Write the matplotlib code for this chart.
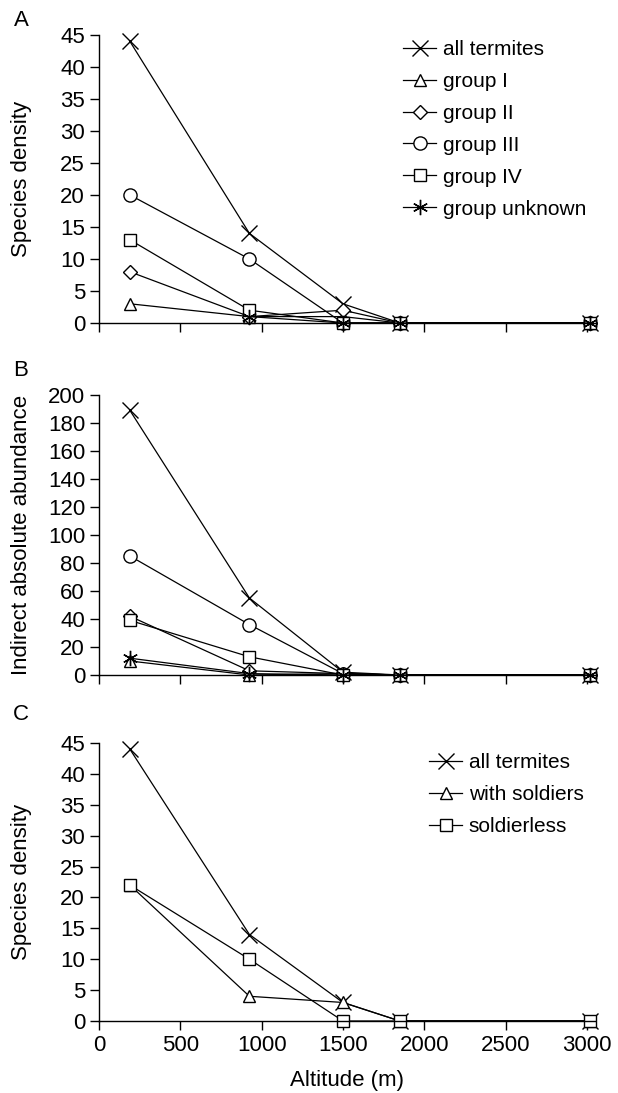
import matplotlib
matplotlib.use("Agg")
import matplotlib.pyplot as plt

plt.rcParams["font.family"] = ["Liberation Sans", "DejaVu Sans"]

altitude = [190, 925, 1500, 1850, 3020]
nan = float("nan")

# panel A - species density per feeding group
a_all = [44, 14, 3, 0, 0]
a_g1 = [3, 1, 1, 0, 0]
a_g2 = [8, 1, 2, 0, 0]
a_g3 = [20, 10, 0, 0, 0]
a_g4 = [13, 2, 0, 0, 0]
a_unk = [nan, 1, 0, 0, 0]

# panel B - indirect absolute abundance
b_all = [189, 55, 2, 0, 0]
b_g1 = [10, 0, 1, 0, 0]
b_g2 = [42, 3, 1, 0, 0]
b_g3 = [85, 36, 1, 0, 0]
b_g4 = [39, 13, 0, 0, 0]
b_unk = [12, 1, 0, 0, 0]

# panel C - soldiers vs soldierless
c_all = [44, 14, 3, 0, 0]
c_sold = [22, 4, 3, 0, 0]
c_nosold = [22, 10, 0, 0, 0]

group_labels = ["all termites", "group I", "group II", "group III", "group IV", "group unknown"]
soldier_labels = ["all termites", "with soldiers", "soldierless"]
markers = ["x", "^", "D", "o", "s", (6, 2, 0)]
msizes = [11, 9, 7.5, 9.5, 9, 11]

FS = 16
LFS = 15
W, H = 618, 1093
fig = plt.figure(figsize=(W / 100, H / 100), dpi=100)


def make_ax(top, bottom):
    ax = fig.add_axes([99 / W, (H - bottom) / H, 496 / W, (bottom - top) / H])
    ax.spines["top"].set_visible(False)
    ax.spines["right"].set_visible(False)
    ax.spines["left"].set_linewidth(1.0)
    ax.spines["bottom"].set_linewidth(1.0)
    ax.set_xlim(0, 3050)
    ax.set_xticks(range(0, 3001, 500))
    ax.tick_params(direction="out", length=6.5, width=1, labelsize=FS, pad=3.5)
    return ax


def draw(ax, series, labels, mk, ms):
    for ys, lab, m, s in zip(series, labels, mk, ms):
        ax.plot(altitude, ys, color="black", lw=0.9, marker=m, markersize=s,
                markerfacecolor="white", markeredgecolor="black", markeredgewidth=1.0,
                label=lab, clip_on=False)


def legend(ax, x, y):
    ax.legend(loc="upper left", bbox_to_anchor=(x / W, 1 - y / H),
              bbox_transform=fig.transFigure, frameon=False, fontsize=LFS,
              handlelength=1.6, handletextpad=0.3, labelspacing=0.62,
              borderpad=0, borderaxespad=0)


axA = make_ax(35, 323)
draw(axA, [a_all, a_g1, a_g2, a_g3, a_g4, a_unk], group_labels, markers, msizes)
axA.set_ylim(0, 45)
axA.set_yticks(range(0, 46, 5))
axA.set_xticklabels([])
axA.set_ylabel("Species density", fontsize=FS)
axA.yaxis.set_label_coords(-67 / 496, 0.5)
legend(axA, 403, 40)
fig.text(21 / W, 1 - 20 / H, "A", fontsize=FS, ha="center", va="center")

axB = make_ax(395, 675)
draw(axB, [b_all, b_g1, b_g2, b_g3, b_g4, b_unk], group_labels, markers, msizes)
axB.set_ylim(0, 200)
axB.set_yticks(range(0, 201, 20))
axB.set_xticklabels([])
axB.set_ylabel("Indirect absolute abundance", fontsize=FS)
axB.yaxis.set_label_coords(-67 / 496, 0.5)
fig.text(21 / W, 1 - 371 / H, "B", fontsize=FS, ha="center", va="center")

axC = make_ax(743, 1021)
draw(axC, [c_all, c_sold, c_nosold], soldier_labels, ["x", "^", "s"], [11, 9, 9])
axC.set_ylim(0, 45)
axC.set_yticks(range(0, 46, 5))
axC.set_ylabel("Species density", fontsize=FS)
axC.yaxis.set_label_coords(-67 / 496, 0.5)
axC.set_xlabel("Altitude (m)", fontsize=FS, labelpad=10)
legend(axC, 429, 753)
fig.text(21 / W, 1 - 714 / H, "C", fontsize=FS, ha="center", va="center")

fig.savefig("out.png", dpi=100)
